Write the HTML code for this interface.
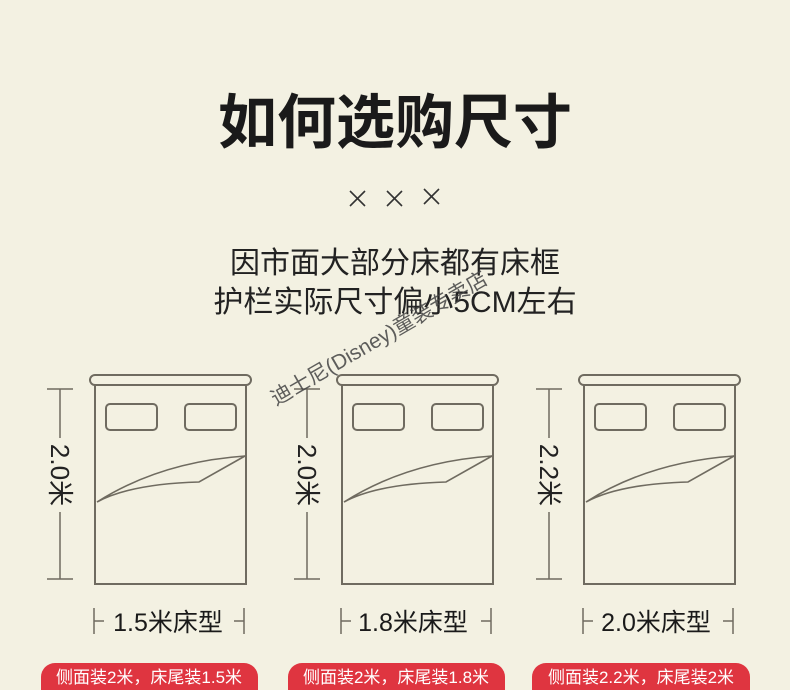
<!DOCTYPE html>
<html><head><meta charset="utf-8"><style>
html,body{margin:0;padding:0;background:#f3f1e2;}
svg{display:block}
text{font-family:"Liberation Sans","Noto Sans CJK SC",sans-serif;}
</style></head><body>
<svg width="790" height="690" viewBox="0 0 790 690" xmlns="http://www.w3.org/2000/svg">
<rect width="790" height="690" fill="#f3f1e2"/>
<text x="395" y="143" text-anchor="middle" font-size="59" font-weight="bold" fill="#1a1a1a">如何选购尺寸</text>
<g stroke="#333" stroke-width="1.6">
<line x1="350" y1="191" x2="365" y2="206"/><line x1="365" y1="191" x2="350" y2="206"/>
<line x1="387" y1="191" x2="402" y2="206"/><line x1="402" y1="191" x2="387" y2="206"/>
<line x1="424" y1="189" x2="439" y2="204"/><line x1="439" y1="189" x2="424" y2="204"/>
</g>
<text x="395" y="273" text-anchor="middle" font-size="30" fill="#222">因市面大部分床都有床框</text>
<text x="395" y="312" text-anchor="middle" font-size="30" fill="#222">护栏实际尺寸偏小5CM左右</text>

<defs>
<g id="bed" fill="none" stroke="#6f6b60" stroke-width="2">
<rect x="90" y="375" width="161" height="10" rx="5"/>
<rect x="95" y="385" width="151" height="199"/>
<rect x="106" y="404" width="51" height="26" rx="4"/>
<rect x="185" y="404" width="51" height="26" rx="4"/>
<path d="M97 502 Q160 462 245 456 L199 482 Q130 484 97 502" stroke-width="1.6"/>
<line x1="60" y1="389" x2="60" y2="579" stroke-width="1.5"/>
<line x1="47" y1="389" x2="73" y2="389" stroke-width="1.5"/>
<line x1="47" y1="579" x2="73" y2="579" stroke-width="1.5"/>
<line x1="94" y1="608" x2="94" y2="634" stroke-width="1.5"/>
<line x1="94" y1="621" x2="104" y2="621" stroke-width="1.5"/>
<line x1="244" y1="608" x2="244" y2="634" stroke-width="1.5"/>
<line x1="234" y1="621" x2="244" y2="621" stroke-width="1.5"/>
</g>
</defs>

<use href="#bed"/>
<use href="#bed" transform="translate(247,0)"/>
<use href="#bed" transform="translate(489,0)"/>

<g font-size="26" fill="#222">
<rect x="46" y="438" width="28" height="74" fill="#f3f1e2"/>
<text transform="translate(60,475) rotate(90)" text-anchor="middle" dy="9">2.0米</text>
<rect x="293" y="438" width="28" height="74" fill="#f3f1e2"/>
<text transform="translate(307,475) rotate(90)" text-anchor="middle" dy="9">2.0米</text>
<rect x="535" y="438" width="28" height="74" fill="#f3f1e2"/>
<text transform="translate(549,475) rotate(90)" text-anchor="middle" dy="9">2.2米</text>
</g>
<g font-size="25" fill="#1a1a1a" text-anchor="middle">
<text x="168" y="631">1.5米床型</text>
<text x="413" y="631">1.8米床型</text>
<text x="656" y="631">2.0米床型</text>
</g>

<g fill="#df3540">
<rect x="41" y="663" width="217" height="40" rx="14"/>
<rect x="288" y="663" width="217" height="40" rx="14"/>
<rect x="532" y="663" width="218" height="40" rx="14"/>
</g>
<g font-size="17" fill="#fff" text-anchor="middle">
<text x="149" y="683">侧面装2米，床尾装1.5米</text>
<text x="396" y="683">侧面装2米，床尾装1.8米</text>
<text x="641" y="683">侧面装2.2米，床尾装2米</text>
</g>

<text transform="translate(276,406) rotate(-30)" font-size="21" fill="#444" font-family="Liberation Serif,Noto Serif CJK SC,serif" opacity="0.85">迪士尼(Disney)童装专卖店</text>
</svg>
</body></html>
